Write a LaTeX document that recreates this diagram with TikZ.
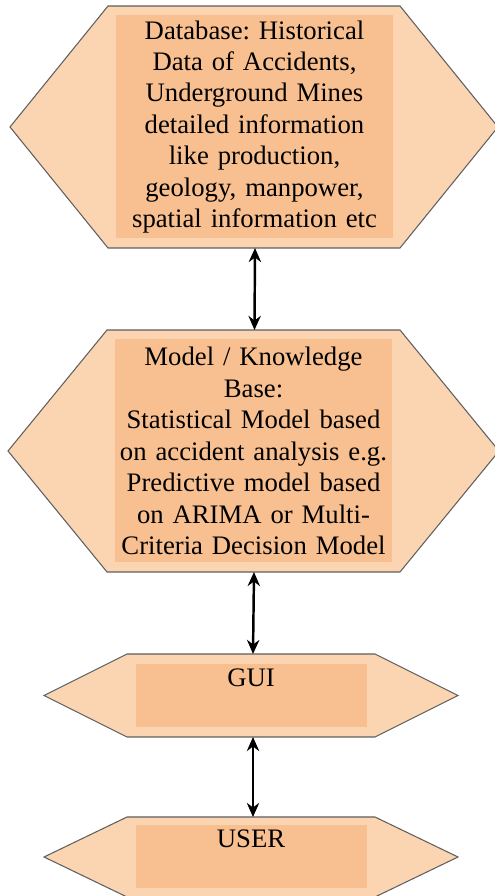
\documentclass[tikz,border=0pt]{standalone}
\usepackage{fontspec}
\setmainfont{Liberation Serif}
\usepackage{xcolor}
\usepackage{tikz}
\usetikzlibrary{arrows.meta,calc,positioning}
\definecolor{hexfill}{RGB}{251,213,178}
\definecolor{boxfill}{RGB}{248,192,144}
\definecolor{hexline}{RGB}{95,95,95}
\frenchspacing

\begin{document}
\begin{tikzpicture}[
  hexa/.style={fill=hexfill,draw=hexline,line width=0.6pt},
  bigbox/.style={fill=boxfill,inner sep=0pt,text width=5.54cm,minimum height=4.46cm,align=center,
    font=\fontsize{15.2}{17.9}\selectfont},
  smallbox/.style={fill=boxfill,inner sep=0pt,minimum width=4.62cm,text height=0.46cm,text depth=0.8cm,
    font=\fontsize{15.2}{17.9}\selectfont},
  link/.style={{Stealth[length=8pt,width=7pt]}-{Stealth[length=8pt,width=7pt]},line width=1.4pt}]
  \useasboundingbox (0,0) rectangle (9.9,17.92);
  % ---- database
  \begin{scope}[shift={(5.08,15.38)}]
    \draw[hexa] (-2.92,2.42) -- (2.92,2.42) -- (4.88,0) -- (2.92,-2.42) -- (-2.92,-2.42) -- (-4.88,0) -- cycle;
    \node[bigbox] (db) at (0.01,0) {Database: Historical\\Data of Accidents,\\Underground Mines\\detailed information\\like production,\\geology, manpower,\\spatial information etc};
    \coordinate (dbbot) at (0.02,-2.42);
  \end{scope}
  % ---- model / knowledge base
  \begin{scope}[shift={(5.07,8.9)}]
    \draw[hexa] (-2.93,2.42) -- (2.93,2.42) -- (4.91,0) -- (2.93,-2.42) -- (-2.93,-2.42) -- (-4.91,0) -- cycle;
    \node[bigbox] (kb) at (0.0,0) {Model / Knowledge\\Base:\\Statistical Model based\\on accident analysis e.g.\\Predictive model based\\on ARIMA or Multi-\\Criteria Decision Model};
    \coordinate (kbtop) at (0.02,2.42);
    \coordinate (kbbot) at (0.01,-2.42);
  \end{scope}
  % ---- gui
  \begin{scope}[shift={(5.02,4.01)}]
    \draw[hexa] (-2.48,0.83) -- (2.48,0.83) -- (4.14,0) -- (2.48,-0.83) -- (-2.48,-0.83) -- (-4.14,0) -- cycle;
    \node[smallbox] (gui) at (0.0,0) {GUI};
    \coordinate (guitop) at (0.04,0.83);
    \coordinate (guibot) at (0.04,-0.83);
  \end{scope}
  % ---- user
  \begin{scope}[shift={(5.02,0.78)}]
    \draw[hexa] (-2.48,0.80) -- (2.48,0.80) -- (4.14,0) -- (2.48,-0.80) -- (-2.48,-0.80) -- (-4.14,0) -- cycle;
    \node[smallbox] (user) at (0.0,0.01) {USER};
    \coordinate (usertop) at (0.04,0.80);
  \end{scope}
  % ---- links
  \draw[link] (dbbot) -- (kbtop);
  \draw[link] (kbbot) -- (guitop);
  \draw[link] (guibot) -- (usertop);
\end{tikzpicture}
\end{document}
